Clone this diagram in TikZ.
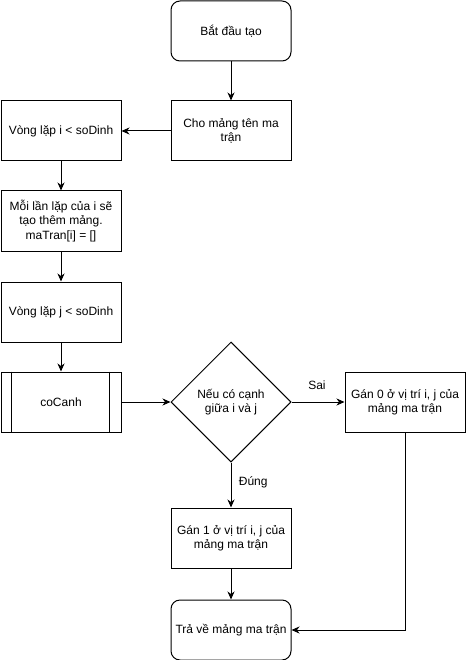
\documentclass[tikz,border=0pt]{standalone}
\usepackage{fontspec}
\setmainfont{Liberation Sans}
\usetikzlibrary{arrows.meta,shapes.geometric}
\begin{document}
\begin{tikzpicture}[x=1pt,y=-1pt,
  every node/.style={font=\fontsize{12}{14.5}\selectfont},
  box/.style={draw,line width=1pt,minimum width=120pt,minimum height=60pt,inner sep=2pt,align=center},
  term/.style={box,rounded corners=9pt},
  decision/.style={draw,line width=1pt,diamond,minimum width=120pt,minimum height=120pt,inner sep=0pt,align=center},
  flow/.style={draw,line width=1pt,-{Stealth[length=8pt,width=7pt,inset=2.5pt]}},
  lbl/.style={font=\fontsize{12}{14.5}\selectfont}]
\useasboundingbox (0,0) rectangle (466,660);

\node[term] (start) at (231,31) {Bắt đầu tạo};
\node[box]  (cho)   at (231,131) {Cho mảng tên ma\\trận};
\node[box]  (vi)    at (61,131) {Vòng lặp i < soDinh};
\node[box]  (moi)   at (61,221) {Mỗi lần lặp của i sẽ\\tạo thêm mảng.\\maTran[i] = []};
\node[box]  (vj)    at (61,312) {Vòng lặp j < soDinh};
\node[box]  (co)    at (61,402) {coCanh};
\draw[line width=1pt] ([xshift=11pt]co.north west) -- ([xshift=11pt]co.south west)
                      ([xshift=-12pt]co.north east) -- ([xshift=-12pt]co.south east);
\node[decision] (dia) at (231,402) {Nếu có cạnh\\giữa i và j};
\node[box]  (gan0)  at (405,402) {Gán 0 ở vị trí i, j của\\mảng ma trận};
\node[box]  (gan1)  at (231,538) {Gán 1 ở vị trí i, j của\\mảng ma trận};
\node[term] (tra)   at (231,630) {Trả về mảng ma trận};

\draw[flow] (start) -- (cho);
\draw[flow] (cho) -- (vi);
\draw[flow] (vi) -- (moi);
\draw[flow] (moi) -- (vj);
\draw[flow] (vj) -- (co);
\draw[flow] (co) -- (dia);
\draw[flow] (dia.east) -- node[lbl,above=9pt,pos=0.48] {Sai} (gan0.west);
\draw[flow] (dia.south) -- node[lbl,right=4pt,pos=0.45] {Đúng} (gan1.north);
\draw[flow] (gan1) -- (tra);
\draw[flow] (gan0.south) |- (tra.east);
\end{tikzpicture}
\end{document}
